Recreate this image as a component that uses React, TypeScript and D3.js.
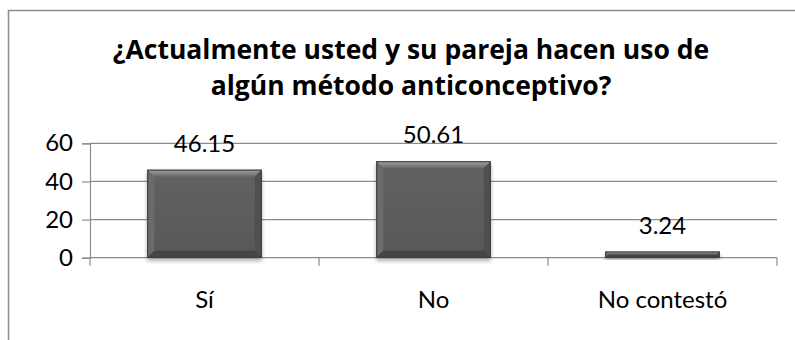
import React, { useEffect, useRef } from "react";
import * as d3 from "d3";

// Survey answers and their percentages
const categories = ["Sí", "No", "No contestó"];
const percentages = [46.15, 50.61, 3.24];
const yTicks = [0, 20, 40, 60];
const titleLines = [
  "¿Actualmente usted y su pareja hacen uso de",
  "algún método anticonceptivo?",
];

const WIDTH = 795;
const HEIGHT = 340;
const FONT = "Lato, 'Open Sans', sans-serif";
const TITLE_FONT = "'Open Sans', Lato, sans-serif";

export default function App() {
  const ref = useRef<SVGSVGElement | null>(null);

  useEffect(() => {
    const svg = d3.select(ref.current);
    svg.selectAll("*").remove();

    const plot = { left: 90, right: 777, top: 143.3, bottom: 257.7 };

    const x = d3
      .scaleBand<string>()
      .domain(categories)
      .range([plot.left, plot.right])
      .paddingInner(0.5)
      .paddingOuter(0.25);
    const y = d3.scaleLinear().domain([0, 60]).range([plot.bottom, plot.top]);

    const defs = svg.append("defs");
    const shadow = defs
      .append("filter")
      .attr("id", "barShadow")
      .attr("x", "-10%")
      .attr("y", "-10%")
      .attr("width", "120%")
      .attr("height", "140%");
    shadow.append("feGaussianBlur").attr("in", "SourceAlpha").attr("stdDeviation", 2.2);
    shadow.append("feOffset").attr("dx", 0).attr("dy", 3).attr("result", "off");
    shadow
      .append("feComponentTransfer")
      .append("feFuncA")
      .attr("type", "linear")
      .attr("slope", 0.35);

    const topGrad = defs
      .append("linearGradient")
      .attr("id", "bevelTop")
      .attr("x1", 0)
      .attr("y1", 0)
      .attr("x2", 0)
      .attr("y2", 1);
    topGrad.append("stop").attr("offset", "0%").attr("stop-color", "#a0a0a0");
    topGrad.append("stop").attr("offset", "100%").attr("stop-color", "#6a6a6a");

    const bodyGrad = defs
      .append("linearGradient")
      .attr("id", "bevelBody")
      .attr("x1", 0)
      .attr("y1", 0)
      .attr("x2", 0)
      .attr("y2", 1);
    bodyGrad.append("stop").attr("offset", "0%").attr("stop-color", "#626262");
    bodyGrad.append("stop").attr("offset", "100%").attr("stop-color", "#585858");

    // Chart frame
    svg
      .append("path")
      .attr("d", `M8.5,${HEIGHT} V10.5 H${WIDTH}`)
      .attr("fill", "none")
      .attr("stroke", "#8c8c8c")
      .attr("stroke-width", 1.5);

    // Title
    const title = svg
      .append("text")
      .attr("text-anchor", "middle")
      .attr("font-family", TITLE_FONT)
      .attr("font-weight", 700)
      .attr("font-size", 26.5)
      .attr("fill", "#000");
    titleLines.forEach((line, i) => {
      title
        .append("tspan")
        .attr("x", 411)
        .attr("y", 59 + i * 36)
        .text(line);
    });

    // Gridlines
    svg
      .append("g")
      .selectAll("line")
      .data(yTicks)
      .join("line")
      .attr("x1", plot.left)
      .attr("x2", plot.right)
      .attr("y1", (d) => y(d))
      .attr("y2", (d) => y(d))
      .attr("stroke", "#8c8c8c")
      .attr("stroke-width", 1.2);

    // Value axis with outward ticks
    const yAxis = svg
      .append("g")
      .attr("transform", `translate(${plot.left},0)`)
      .call(d3.axisLeft(y).tickValues(yTicks).tickSize(8).tickPadding(9).tickFormat(d3.format("d")));
    yAxis.select(".domain").attr("stroke", "#8c8c8c").attr("stroke-width", 1.2);
    yAxis.selectAll(".tick line").attr("stroke", "#8c8c8c").attr("stroke-width", 1.2);
    yAxis
      .selectAll(".tick text")
      .attr("font-family", FONT)
      .attr("font-size", 24)
      .attr("fill", "#000");

    // Category axis: boundary ticks between bands
    const step = x.step();
    const boundaries = d3.range(categories.length + 1).map((i) => plot.left + i * step);
    svg
      .append("g")
      .selectAll("line")
      .data(boundaries)
      .join("line")
      .attr("x1", (d) => d)
      .attr("x2", (d) => d)
      .attr("y1", plot.bottom)
      .attr("y2", plot.bottom + 8)
      .attr("stroke", "#8c8c8c")
      .attr("stroke-width", 1.2);

    svg
      .append("g")
      .selectAll("text")
      .data(categories)
      .join("text")
      .attr("x", (d) => (x(d) as number) + x.bandwidth() / 2)
      .attr("y", 308)
      .attr("text-anchor", "middle")
      .attr("font-family", FONT)
      .attr("font-size", 24)
      .attr("fill", "#000")
      .text((d) => d);

    // Bevelled bars
    const bars = svg
      .append("g")
      .selectAll("g")
      .data(categories.map((c, i) => ({ c, v: percentages[i] })))
      .join("g");

    bars.each(function (d) {
      const g = d3.select(this);
      const x0 = x(d.c) as number;
      const w = x.bandwidth();
      const y0 = y(d.v);
      const h = plot.bottom - y0;
      const b = Math.min(7, h / 2);
      const x1 = x0 + w;
      const y1 = plot.bottom;

      g.append("rect")
        .attr("x", x0)
        .attr("y", y0)
        .attr("width", w)
        .attr("height", h)
        .attr("fill", "#5a5a5a")
        .attr("filter", "url(#barShadow)");

      g.append("rect")
        .attr("x", x0)
        .attr("y", y0)
        .attr("width", w)
        .attr("height", h)
        .attr("fill", "url(#bevelBody)");

      // top bevel
      g.append("path")
        .attr("d", `M${x0},${y0} L${x1},${y0} L${x1 - b},${y0 + b} L${x0 + b},${y0 + b} Z`)
        .attr("fill", "url(#bevelTop)");
      // left bevel
      g.append("path")
        .attr("d", `M${x0},${y0} L${x0 + b},${y0 + b} L${x0 + b},${y1 - b} L${x0},${y1} Z`)
        .attr("fill", "#6b6b6b");
      // right bevel
      g.append("path")
        .attr("d", `M${x1},${y0} L${x1 - b},${y0 + b} L${x1 - b},${y1 - b} L${x1},${y1} Z`)
        .attr("fill", "#4f4f4f");
      // bottom bevel
      g.append("path")
        .attr("d", `M${x0},${y1} L${x0 + b},${y1 - b} L${x1 - b},${y1 - b} L${x1},${y1} Z`)
        .attr("fill", "#454545");

      g.append("rect")
        .attr("x", x0 + 0.5)
        .attr("y", y0 + 0.5)
        .attr("width", w - 1)
        .attr("height", Math.max(0, h - 1))
        .attr("fill", "none")
        .attr("stroke", "#3c3c3c")
        .attr("stroke-width", 1);

      // value label
      g.append("text")
        .attr("x", x0 + w / 2)
        .attr("y", y0 - 18)
        .attr("text-anchor", "middle")
        .attr("font-family", FONT)
        .attr("font-size", 24)
        .attr("fill", "#000")
        .text(d3.format(".2f")(d.v));
    });
  }, []);

  return (
    <svg
      ref={ref}
      width={WIDTH}
      height={HEIGHT}
      style={{ position: "absolute", left: 0, top: 0, background: "#fff" }}
    />
  );
}
